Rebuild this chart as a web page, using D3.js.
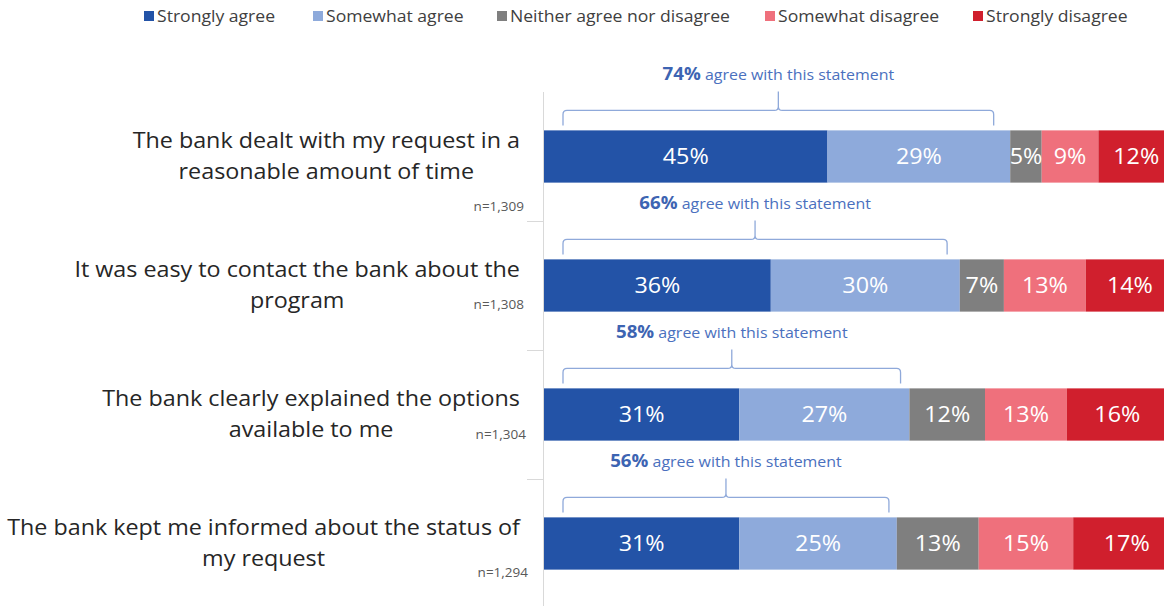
<!DOCTYPE html>
<html>
<head>
<meta charset="utf-8">
<script src="https://cdn.jsdelivr.net/npm/d3@7"></script>
<style>
  html, body { margin: 0; padding: 0; background: #fff; }
  svg { display: block; font-family: "Open Sans", Lato, sans-serif; }
</style>
</head>
<body>
<svg id="chart" width="1164" height="607"></svg>
<script>
// Survey statements (wrapped as drawn) and sample sizes
const categories = [
  "The bank dealt with my request in a reasonable amount of time",
  "It was easy to contact the bank about the program",
  "The bank clearly explained the options available to me",
  "The bank kept me informed about the status of my request"
];
const categoryLines = [
  ["The bank dealt with my request in a", "reasonable amount of time"],
  ["It was easy to contact the bank about the", "program"],
  ["The bank clearly explained the options", "available to me"],
  ["The bank kept me informed about the status of", "my request"]
];
const sampleSizes = ["n=1,309", "n=1,308", "n=1,304", "n=1,294"];

// Response scale
const responses = ["Strongly agree", "Somewhat agree", "Neither agree nor disagree", "Somewhat disagree", "Strongly disagree"];
const stronglyAgree    = [45, 36, 31, 31];
const somewhatAgree    = [29, 30, 27, 25];
const neither          = [5, 7, 12, 13];
const somewhatDisagree = [9, 13, 13, 15];
const stronglyDisagree = [12, 14, 16, 17];
const agreeTotals      = [74, 66, 58, 56];

const colors = ["#2353A7", "#8EAADB", "#7F7F7F", "#EF707C", "#D01F2D"];

// Text is set slightly wide (horizontal stretch) to mimic a condensed UI face laid out wide
const STRETCH = 1.1;
const place = (sel, px, py) => sel.attr("transform", `translate(${px},${py}) scale(${STRETCH},1)`);

const svg = d3.select("#chart");

const series = [stronglyAgree, somewhatAgree, neither, somewhatDisagree, stronglyDisagree];
const rows = categories.map((c, i) => {
  let acc = 0;
  const segs = series.map((s, k) => {
    const seg = { key: responses[k], k, x0: acc, x1: acc + s[i], v: s[i] };
    acc += s[i];
    return seg;
  });
  return { cat: c, i, segs };
});

// The plot runs a little past the right edge of the canvas
const x = d3.scaleLinear().domain([0, 100]).range([544, 1174]);
const y = d3.scaleBand().domain(categories).range([92, 608]).padding(0);
// Summary brackets use their own slightly compressed scale, inset from the bar start
const xBracket = d3.scaleLinear().domain([0, 100]).range([563, 1145]);
const barH = y.bandwidth() * 0.405;
const barY = c => y(c) + (y.bandwidth() - barH) / 2;

// Category axis: vertical line with separators between statements
svg.append("line")
  .attr("x1", 543.5).attr("x2", 543.5)
  .attr("y1", 92).attr("y2", 606)
  .attr("stroke", "#D9D9D9").attr("stroke-width", 1);
svg.selectAll("line.sep")
  .data(categories.slice(1))
  .join("line")
  .attr("class", "sep")
  .attr("x1", 527).attr("x2", 543)
  .attr("y1", d => Math.round(y(d)) + 0.5)
  .attr("y2", d => Math.round(y(d)) + 0.5)
  .attr("stroke", "#D9D9D9");

// Stacked bars
const g = svg.selectAll("g.row").data(rows).join("g").attr("class", "row");
g.selectAll("rect")
  .data(d => d.segs.map(s => ({ ...s, cat: d.cat })))
  .join("rect")
  .attr("x", d => x(d.x0))
  .attr("width", d => x(d.x1) - x(d.x0))
  .attr("y", d => barY(d.cat))
  .attr("height", barH)
  .attr("fill", d => colors[d.k]);

g.selectAll("text.val")
  .data(d => d.segs.map(s => ({ ...s, cat: d.cat })))
  .join("text")
  .attr("class", "val")
  .attr("transform", d => `translate(${(x(d.x0) + x(d.x1)) / 2},${y(d.cat) + y.bandwidth() / 2}) scale(${STRETCH},1)`)
  .attr("dy", "0.36em")
  .attr("text-anchor", "middle")
  .attr("fill", "#fff")
  .attr("font-size", 21.2)
  .text(d => d.v + "%");

// Statement labels: block centred so the longest line ends at the axis
const labelRight = 520;
rows.forEach((r, i) => {
  const cy = y(r.cat) + y.bandwidth() / 2;
  const t = svg.append("text")
    .attr("font-size", 21.2)
    .attr("fill", "#262626")
    .attr("text-anchor", "middle");
  const spans = categoryLines[i].map((ln, j) =>
    t.append("tspan").attr("x", 0).attr("y", -15.5 + j * 31).attr("dy", "0.35em").text(ln));
  const maxW = d3.max(spans, s => s.node().getComputedTextLength()) * STRETCH;
  place(t, labelRight - maxW / 2, cy);
});

// Sample sizes
const nOffset = [50, 19, 20, 29];
const nRight = [524, 524, 526, 528];
svg.selectAll("text.n")
  .data(categories)
  .join("text")
  .attr("class", "n")
  .attr("transform", (d, i) => `translate(${nRight[i]},${y(d) + y.bandwidth() / 2 + nOffset[i]}) scale(${STRETCH},1)`)
  .attr("dy", "0.35em")
  .attr("text-anchor", "end")
  .attr("font-size", 12.3)
  .attr("fill", "#595959")
  .text((d, i) => sampleSizes[i]);

// Brackets summarising total agreement
const bracketColor = "#8FA9DA";
rows.forEach((r, i) => {
  const top = barY(r.cat);
  const xl = xBracket(0);
  const xr = xBracket(agreeTotals[i]);
  const xm = (xl + xr) / 2;
  const yb = top - 20;
  const path = d3.path();
  path.moveTo(xl, top - 5);
  path.lineTo(xl, yb + 4);
  path.quadraticCurveTo(xl, yb, xl + 4, yb);
  path.lineTo(xm - 4, yb);
  path.quadraticCurveTo(xm, yb, xm, yb - 4);
  path.lineTo(xm, yb - 19);
  path.moveTo(xm, yb - 4);
  path.quadraticCurveTo(xm, yb, xm + 4, yb);
  path.lineTo(xr - 4, yb);
  path.quadraticCurveTo(xr, yb, xr, yb + 4);
  path.lineTo(xr, top - 5);
  svg.append("path")
    .attr("d", path.toString())
    .attr("fill", "none")
    .attr("stroke", bracketColor)
    .attr("stroke-width", 1.3);

  const t = svg.append("text")
    .attr("dy", "0.35em")
    .attr("text-anchor", "middle");
  place(t, xm, top - 56);
  t.append("tspan")
    .attr("font-size", 17).attr("font-weight", "bold").attr("fill", "#3D64B2")
    .text(agreeTotals[i] + "%");
  t.append("tspan")
    .attr("font-size", 14.5).attr("fill", "#4A70BE")
    .text(" agree with this statement");
});

// Legend
const legendX = [144, 313, 497, 765, 973];
const lg = svg.selectAll("g.leg").data(responses).join("g")
  .attr("class", "leg")
  .attr("transform", (d, i) => `translate(${legendX[i]},16)`);
lg.append("rect")
  .attr("x", 0).attr("y", -5).attr("width", 10).attr("height", 10)
  .attr("fill", (d, i) => colors[i]);
lg.append("text")
  .attr("transform", `translate(13,0) scale(${STRETCH},1)`)
  .attr("dy", "0.35em")
  .attr("font-size", 16).attr("fill", "#404040")
  .text(d => d);
</script>
</body>
</html>
